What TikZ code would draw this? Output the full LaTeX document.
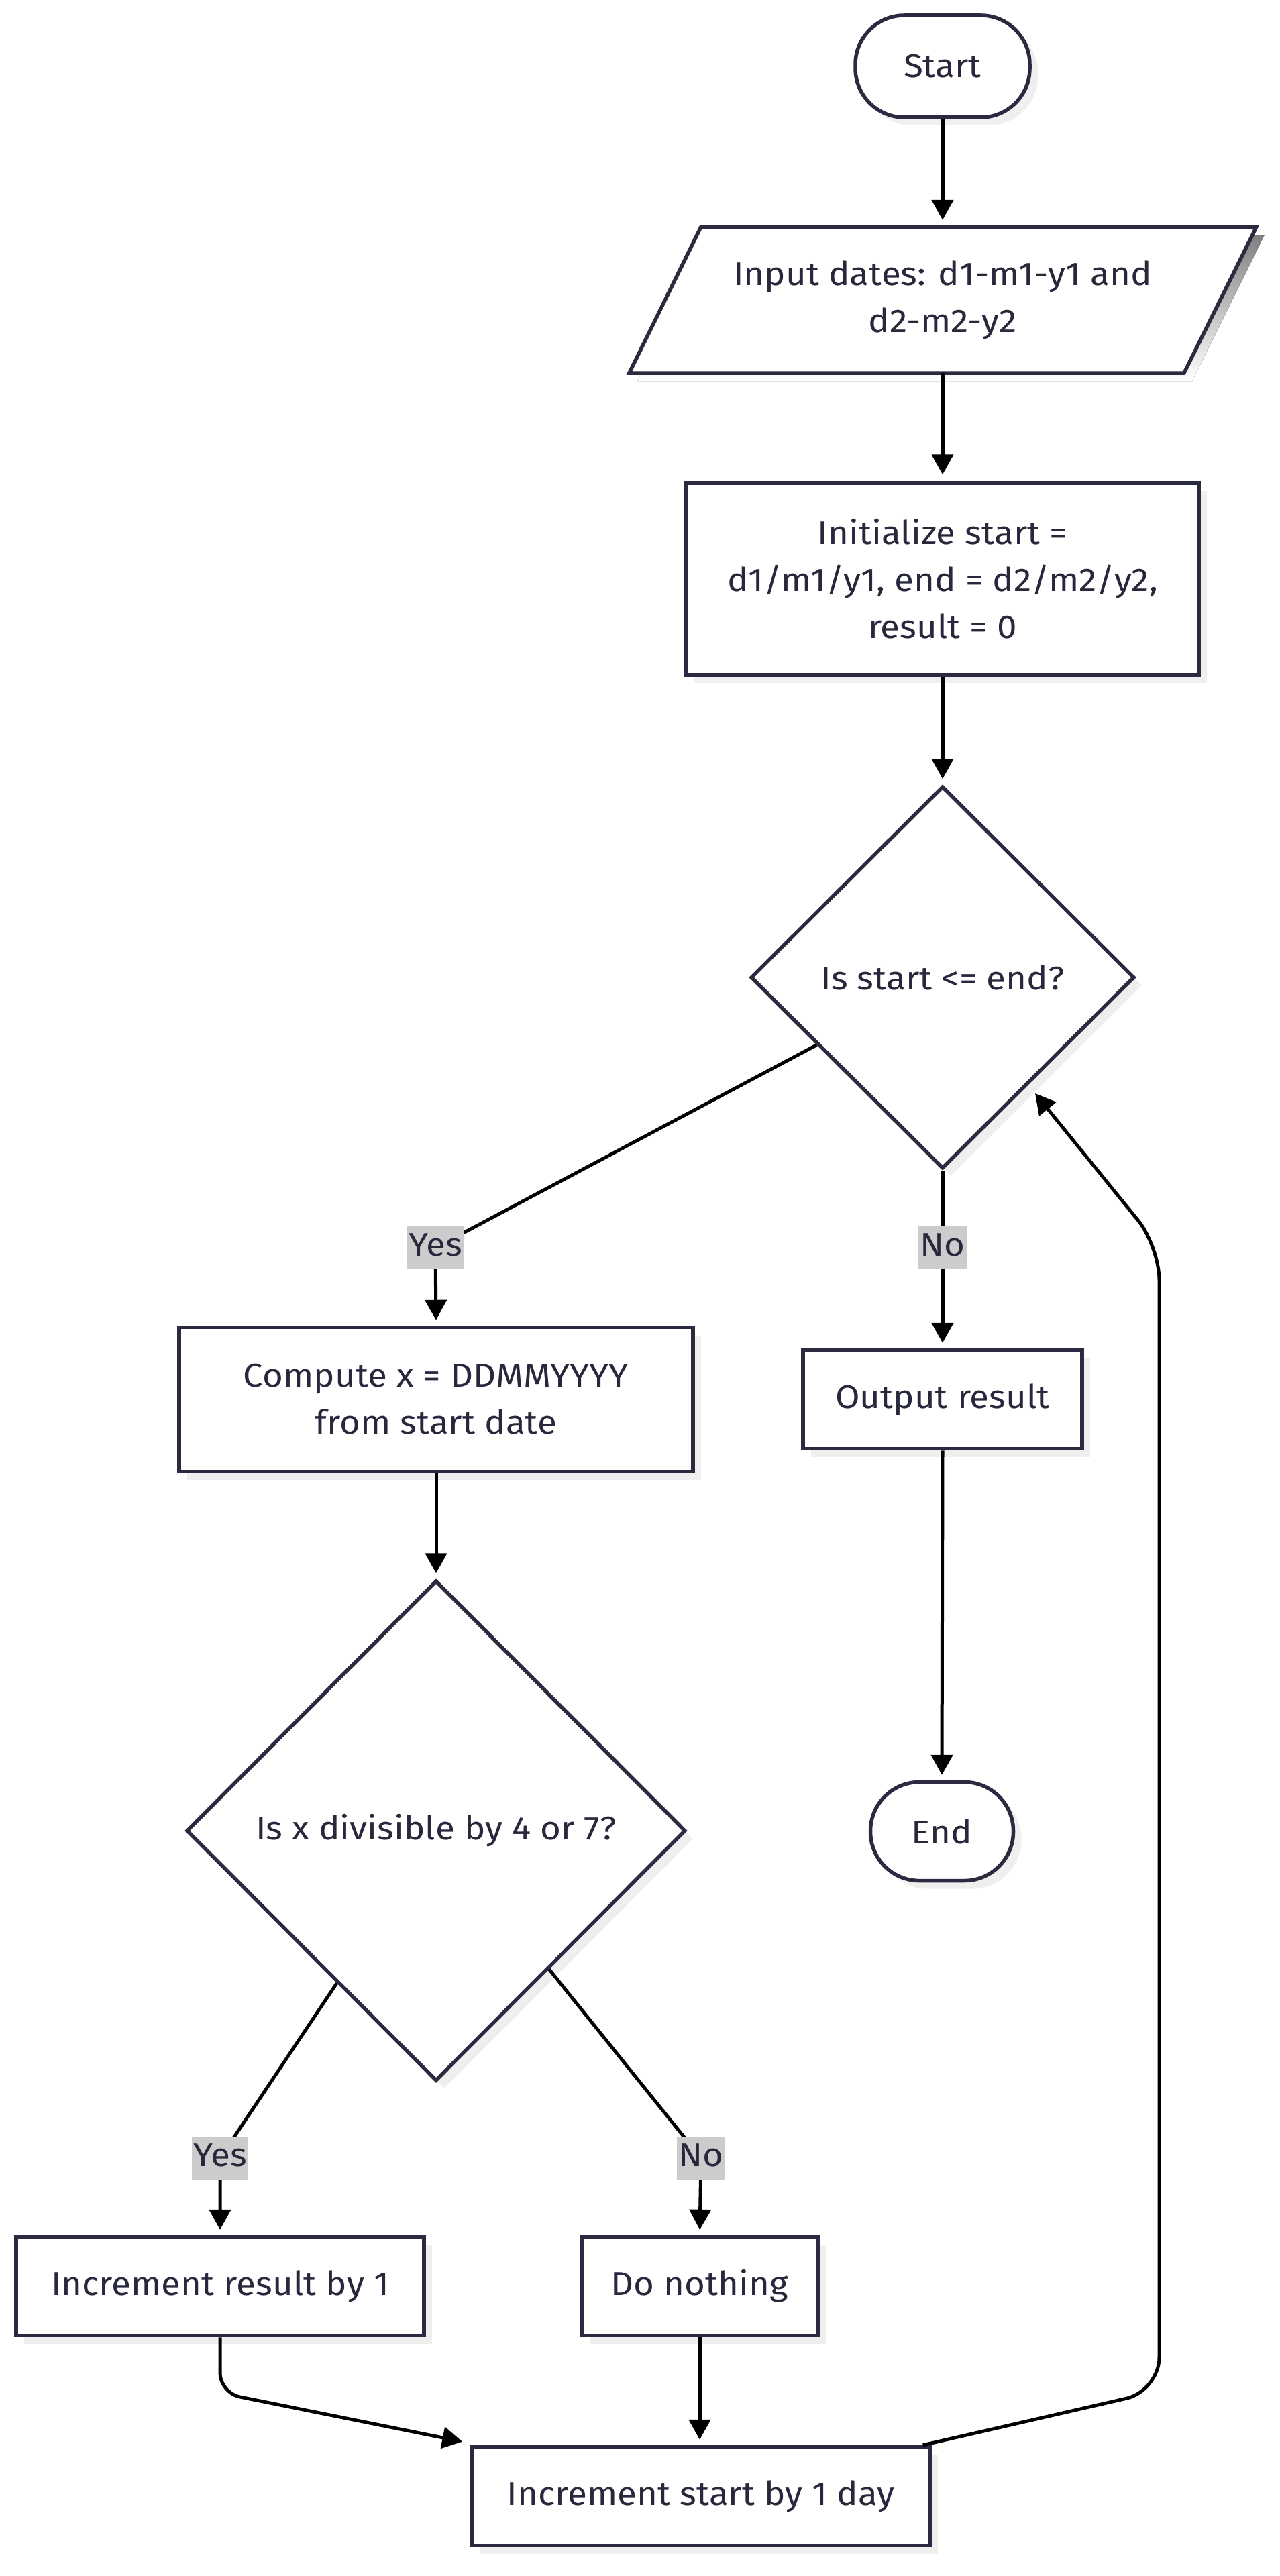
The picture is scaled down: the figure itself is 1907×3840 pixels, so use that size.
\documentclass[tikz,border=0pt]{standalone}
\usepackage{fontspec}
\setmainfont[FakeStretch=1.08]{Fira Sans}
\usetikzlibrary{shapes.geometric,shadows,arrows.meta,calc}
\definecolor{nborder}{HTML}{2A2A40}
\definecolor{ntext}{HTML}{28283D}
\definecolor{lblbg}{HTML}{CCCCCC}
\definecolor{shade}{HTML}{EFEFEF}
\begin{document}
\begin{tikzpicture}[x=1pt,y=-1pt,
  txt/.style={text=ntext, font=\fontsize{49}{70}\selectfont, align=center},
  base/.style={txt, draw=nborder, line width=5.5pt, fill=white, inner sep=0pt,
    drop shadow={fill=shade, opacity=1, shadow xshift=12pt, shadow yshift=-12pt}},
  procbox/.style={base, rectangle},
  term/.style={base, rectangle, rounded corners=73pt},
  decision/.style={base, diamond, aspect=1},
  edgelbl/.style={fill=lblbg, text=ntext, font=\fontsize{49}{58}\selectfont,
    inner xsep=2pt, inner ysep=10pt, text height=34pt, text depth=10pt},
  conn/.style={draw=black, line width=5pt, -{Triangle[length=30pt,width=32pt]}},
]
\useasboundingbox[fill=white] (0,0) rectangle (1907,3840);

% parallelogram (drawn as shape, with a named text node)
\fill[shade] (1057,350) -- (1885,350) -- (1777,568) -- (950,568) -- cycle;
\filldraw[draw=nborder, fill=white, line width=5.5pt, line join=miter]
  (1045,338) -- (1873,338) -- (1765,556) -- (938,556) -- cycle;
\node[txt, rectangle, inner sep=0pt, minimum width=720pt, minimum height=218pt] (inp) at (1405,447)
  {Input dates: d1-m1-y1 and\\d2-m2-y2};

\node[term, minimum width=260pt, minimum height=152pt] (start) at (1405,99) {Start};
\node[procbox, minimum width=764pt, minimum height=286pt] (init) at (1405,863)
  {Initialize start =\\d1/m1/y1, end = d2/m2/y2,\\result = 0};
\node[decision, minimum width=572pt, minimum height=570pt] (d1) at (1405,1457) {Is start <= end?};
\node[procbox, minimum width=766pt, minimum height=215pt] (comp) at (650,2086)
  {Compute x = DDMMYYYY\\from start date};
\node[procbox, minimum width=416pt, minimum height=147pt] (out) at (1405,2086) {Output result};
\node[term, minimum width=213pt, minimum height=147pt] (fin) at (1404,2730) {End};
\node[decision, minimum width=744pt, minimum height=746pt] (d2) at (650,2729) {Is x divisible by 4 or 7?};
\node[procbox, minimum width=608pt, minimum height=147pt] (inc) at (328,3408) {Increment result by 1};
\node[procbox, minimum width=352pt, minimum height=147pt] (nothing) at (1043,3408) {Do nothing};
\node[procbox, minimum width=683pt, minimum height=147pt] (incs) at (1044.5,3721) {Increment start by 1 day};

\coordinate (yes1pos) at (649,1860);
\coordinate (no1pos) at (1405,1860);
\coordinate (yes2pos) at (328,3217);
\coordinate (no2pos) at (1045,3217);
\coordinate (looptip) at (1543,1630);
\coordinate (incstip) at ($(incs.north west)+(-11,-5)$);

\draw[conn, shorten >=10pt] (start.south) -- (inp.north);
\draw[conn, shorten >=10pt] (inp.south) -- (init.north);
\draw[conn, shorten >=8pt] (init.south) -- (d1.north);
\draw[conn, shorten >=8pt] ($(d1.west)!0.35!(d1.south)$) -- (yes1pos) node[edgelbl] {Yes} -- (comp.north);
\draw[conn, shorten >=8pt] (d1.south) -- (no1pos) node[edgelbl] {No} -- (out.north);
\draw[conn, shorten >=8pt] (comp.south) -- (d2.north);
\draw[conn, shorten >=8pt] (out.south) -- (fin.north);
\draw[conn, shorten >=8pt] ($(d2.west)!0.605!(d2.south)$) -- (yes2pos) node[edgelbl] {Yes} -- (inc.north);
\draw[conn, shorten >=8pt] ($(d2.east)!0.55!(d2.south)$) -- (no2pos) node[edgelbl] {No} -- (nothing.north);
\draw[conn, rounded corners=30pt] (inc.south) -- (328,3567) -- (incstip);
\draw[conn, shorten >=8pt] (nothing.south) -- (nothing.south |- incs.north);
\draw[conn, rounded corners=50pt] ($(incs.north east)+(-13,0)$) -- (1728,3564) -- (1728,1858) -- (looptip);
\end{tikzpicture}
\end{document}
